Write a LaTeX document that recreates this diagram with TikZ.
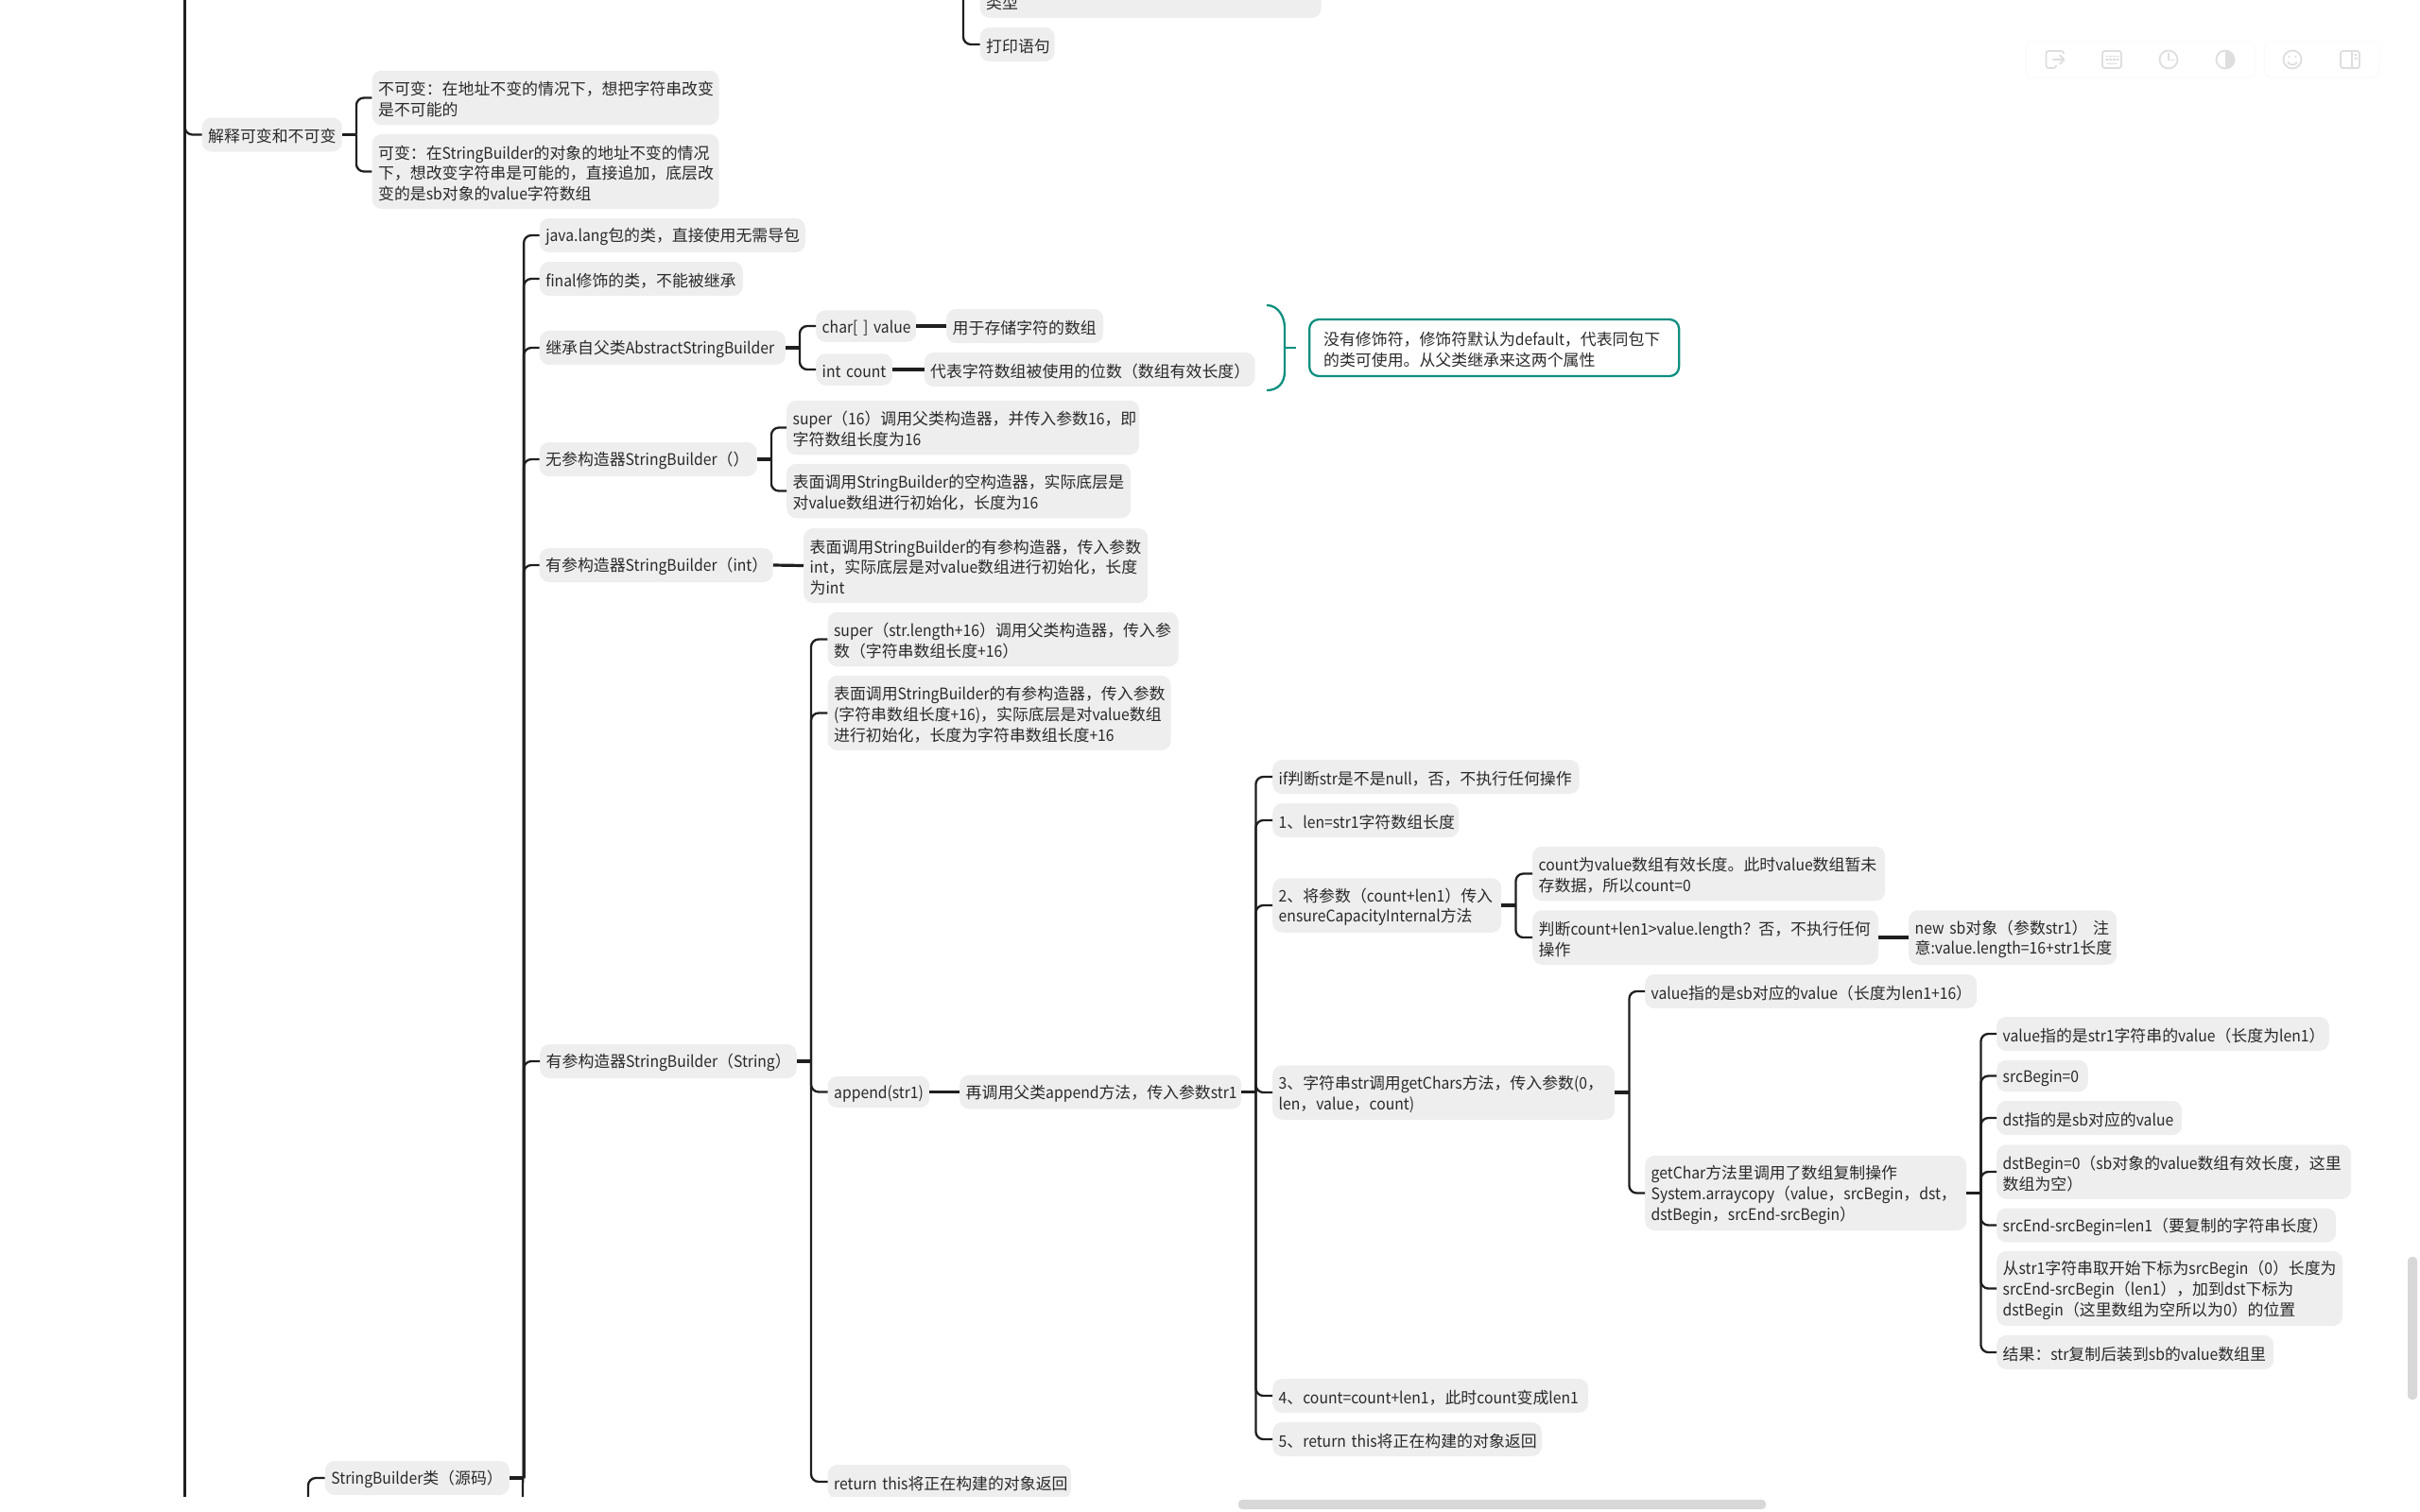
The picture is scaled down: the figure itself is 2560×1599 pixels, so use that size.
\documentclass[tikz,border=0pt]{standalone}
\usepackage{fontspec}
\usepackage{tikz}
\usetikzlibrary{calc}
\setmainfont{Noto Sans CJK SC}
\newfontfamily\hanfont{Noto Sans CJK SC}
\newfontfamily\latinfont[FakeStretch=0.93]{Noto Sans CJK SC}
% latin runs are set a little narrower than the han runs
\newXeTeXintercharclass\hanclass
\newcount\hanchar
\hanchar="3000
\loop \XeTeXcharclass\hanchar=\hanclass \advance\hanchar by 1 \ifnum\hanchar<"A000 \repeat
\hanchar="FF00
\loop \XeTeXcharclass\hanchar=\hanclass \advance\hanchar by 1 \ifnum\hanchar<"FFF0 \repeat
\XeTeXinterchartoks 0 \hanclass = {\hanfont}
\XeTeXinterchartoks \hanclass 0 = {\latinfont}
\XeTeXinterchartoks 4095 \hanclass = {\hanfont}
\XeTeXinterchartoks 4095 0 = {\latinfont}
\definecolor{topicgray}{HTML}{EEEEEE}
\definecolor{inkgray}{HTML}{2A2A2A}
\definecolor{linegray}{HTML}{1F1F1F}
\definecolor{noteteal}{HTML}{0F8F7F}
\definecolor{icongray}{HTML}{DEDEDE}
\definecolor{panelgray}{HTML}{FAFAFA}
\definecolor{bargray}{HTML}{D8D8D8}
\newcommand{\topicfont}{\fontsize{16.9}{21.7}\latinfont\XeTeXinterchartokenstate=1 }
\tikzset{
  topic/.style={anchor=west, fill=topicgray, rounded corners=10pt, inner xsep=6.5pt, inner ysep=0pt, align=left, minimum height=36pt, font=\topicfont, text=inkgray, text height=18pt},
  linetwo/.style={minimum height=57.5pt},
  linethree/.style={minimum height=79pt},
  lowtopic/.style={minimum height=33.5pt},
  bus/.style={draw=linegray, line width=2.3pt},
  stub/.style={draw=linegray, line width=3.2pt},
  kid/.style={bus, rounded corners=8pt, to path={(\tikztostart.west) -| ($(\tikztotarget.east)+(15,0)$)}},
  kidfree/.style={bus, rounded corners=8pt, to path={(\tikztostart.west) -| (\tikztotarget)}},
  link/.style={stub, to path={(\tikztostart.west) -- (\tikztotarget.east)}},
  note/.style={topic, fill=white, draw=noteteal, line width=2.3pt, inner xsep=15pt},
  notelink/.style={draw=noteteal, line width=2.3pt},
  icon/.style={draw=icongray, line width=1.8pt, line cap=round, line join=round},
  panel/.style={draw=panelgray, fill=white, line width=1pt, rounded corners=7pt},
  bar/.style={fill=bargray, rounded corners=4pt}
}
\begin{document}
\begin{tikzpicture}[x=1pt,y=-1pt]
\useasboundingbox (0,0) rectangle (2560,1599);
\begin{scope}
\clip (0,0) rectangle (2560,1583);
% lines that come from above or go on below the window
\coordinate (maintop) at (195.6,-60);
\coordinate (mainend) at (195.6,1640);
\coordinate (printbus) at (1019,-60);
\coordinate (sourcebus) at (326,1640);
\coordinate (sourceend) at (553,1640);
\draw[bus] (maintop) -- (mainend);

\node (type) at (1036.5,-10) [topic, linetwo, text width=348pt] {\mbox{}\\类型} edge[kidfree] (printbus);
\node (print) at (1036.5,47) [topic, text width=66pt] {打印语句} edge[kidfree] (printbus);

\node (explain) at (213.5,142.5) [topic, text width=135pt] {解释可变和不可变} edge[kidfree] (maintop);
	\node (fixed) at (393.4,103.5) [topic, linetwo, text width=354pt] {不可变：在地址不变的情况下，想把字符串改变\\是不可能的} edge[kid] (explain);
	\node (mutable) at (393.4,181.5) [topic, linethree, text width=354pt] {可变：在StringBuilder的对象的地址不变的情况\\下，想改变字符串是可能的，直接追加，底层改\\变的是sb对象的value字符数组} edge[kid] (explain);

\node (source) at (343.7,1564) [topic, text width=182pt] {StringBuilder类（源码）} edge[kidfree] (sourcebus);
\draw[bus] (source.east) ++(14,0) -- (sourceend);
	\node (lang) at (570.6,249) [topic, text width=268pt] {java.lang包的类，直接使用无需导包} edge[kid] (source);
	\node (final) at (570.6,295) [topic, text width=202pt] {final修饰的类，不能被继承} edge[kid] (source);
	\node (parent) at (570.6,368) [topic, text width=247pt] {继承自父类AbstractStringBuilder} edge[kid] (source);
		\node (value) at (863,345) [topic, lowtopic, text width=93pt] {char[~]~value} edge[kid] (parent);
			\node (valuedoc) at (1001,345) [topic, text width=153pt] {用于存储字符的数组} edge[link] (value);
		\node (count) at (863,391) [topic, lowtopic, text width=68pt] {int~count} edge[kid] (parent);
			\node (countdoc) at (977.5,391) [topic, text width=337pt] {代表字符数组被使用的位数（数组有效长度）} edge[link] (count);
	\node (empty) at (570.5,486) [topic, text width=217pt] {无参构造器StringBuilder（）} edge[kid] (source);
		\node (emptysuper) at (832,452.5) [topic, linetwo, text width=360pt] {super（16）调用父类构造器，并传入参数16，即\\字符数组长度为16} edge[kid] (empty);
		\node (emptyinit) at (832,519.5) [topic, linetwo, text width=351pt] {表面调用StringBuilder的空构造器，实际底层是\\对value数组进行初始化，长度为16} edge[kid] (empty);
	\node (intarg) at (570.5,598) [topic, text width=234pt] {有参构造器StringBuilder（int）} edge[kid] (source);
		\node (intinit) at (850,598.5) [topic, linethree, text width=351pt] {表面调用StringBuilder的有参构造器，传入参数\\int，实际底层是对value数组进行初始化，长度\\为int} edge[link] (intarg);
	\node (strarg) at (571,1123) [topic, text width=258.6pt] {有参构造器StringBuilder（String）} edge[kid] (source);
		\node (strsuper) at (875.4,676.5) [topic, linetwo, text width=358pt] {super（str.length+16）调用父类构造器，传入参\\数（字符串数组长度+16）} edge[kid] (strarg);
		\node (strinit) at (875.4,754.5) [topic, linethree, text width=350pt] {表面调用StringBuilder的有参构造器，传入参数\\(字符串数组长度+16)，实际底层是对value数组\\进行初始化，长度为字符串数组长度+16} edge[kid] (strarg);
		\node (append) at (875.5,1155.5) [topic, lowtopic, text width=94.5pt] {append(str1)} edge[kid] (strarg);
			\node (superappend) at (1015,1155.5) [topic, text width=285pt] {再调用父类append方法，传入参数str1} edge[link] (append);
				\node (ifnull) at (1346,822) [topic, text width=311.5pt] {if判断str是不是null，否，不执行任何操作} edge[kid] (superappend);
				\node (len) at (1346,868) [topic, text width=184pt] {1、len=str1字符数组长度} edge[kid] (superappend);
				\node (ensure) at (1346,958) [topic, linetwo, text width=229pt] {2、将参数（count+len1）传入\\ensureCapacityInternal方法} edge[kid] (superappend);
					\node (countzero) at (1621,924.5) [topic, linetwo, text width=360pt] {count为value数组有效长度。此时value数组暂未\\存数据，所以count=0} edge[kid] (ensure);
					\node (check) at (1621,992) [topic, linetwo, text width=353pt] {判断count+len1>value.length？否，不执行任何\\操作} edge[kid] (ensure);
						\node (newsb) at (2019,992) [topic, linetwo, text width=207pt] {new~sb对象（参数str1） 注\\意:value.length=16+str1长度} edge[link] (check);
				\node (getchars) at (1346,1156) [topic, linetwo, text width=349pt] {3、字符串str调用getChars方法，传入参数(0，\\len，value，count)} edge[kid] (superappend);
					\node (dstvalue) at (1740,1049) [topic, text width=338pt] {value指的是sb对应的value（长度为len1+16）} edge[kid] (getchars);
					\node (copy) at (1740,1262.5) [topic, linethree, text width=327pt] {getChar方法里调用了数组复制操作\\System.arraycopy（value，srcBegin，dst，\\dstBegin，srcEnd-srcBegin）} edge[kid] (getchars);
						\node (srcvalue) at (2112,1094) [topic, text width=338.6pt] {value指的是str1字符串的value（长度为len1）} edge[kid] (copy);
						\node (srcbegin) at (2112,1138.5) [topic, lowtopic, text width=83.6pt] {srcBegin=0} edge[kid] (copy);
						\node (dst) at (2112,1183) [topic, text width=183pt] {dst指的是sb对应的value} edge[kid] (copy);
						\node (dstbegin) at (2112,1240) [topic, linetwo, text width=362pt] {dstBegin=0（sb对象的value数组有效长度，这里\\数组为空）} edge[kid] (copy);
						\node (srcend) at (2112,1296.5) [topic, text width=346pt] {srcEnd-srcBegin=len1（要复制的字符串长度）} edge[kid] (copy);
						\node (take) at (2112,1363.5) [topic, linethree, text width=353pt] {从str1字符串取开始下标为srcBegin（0）长度为\\srcEnd-srcBegin（len1），加到dst下标为\\dstBegin（这里数组为空所以为0）的位置} edge[kid] (copy);
						\node (result) at (2112,1431) [topic, text width=280pt] {结果：str复制后装到sb的value数组里} edge[kid] (copy);
				\node (addlen) at (1346,1477) [topic, text width=321pt] {4、count=count+len1，此时count变成len1} edge[kid] (superappend);
				\node (backinner) at (1346,1523) [topic, text width=271.6pt] {5、return~this将正在构建的对象返回} edge[kid] (superappend);
		\node (backouter) at (875.5,1568) [topic, text width=244.5pt] {return~this将正在构建的对象返回} edge[kid] (strarg);

% the thick first piece behind each parent
\draw[stub] (explain.east) -- ++(15,0);
\draw[stub] (source.east) -- ++(14,0);
\draw[stub] (parent.east) -- ++(15,0);
\draw[stub] (empty.east) -- ++(15,0);
\draw[stub] (strarg.east) -- ++(15,0);
\draw[stub] (superappend.east) -- ++(15,0);
\draw[stub] (ensure.east) -- ++(15,0);
\draw[stub] (getchars.east) -- ++(15,0);
\draw[stub] (copy.east) -- ++(15,0);

% the note on the two fields
\node (fieldnote) at (1384,368) [note, minimum height=60pt, text width=361pt] {没有修饰符，修饰符默认为default，代表同包下\\的类可使用。从父类继承来这两个属性};
\coordinate (bracetop) at (1340,323);
\coordinate (bracebot) at (1340,413);
\coordinate (bracemid) at (1359,368);
\coordinate (braceend) at (1371,368);
\draw[notelink] (bracetop) .. controls (1352,323) and (1359,335) .. (1359,347) -- (1359,393) .. controls (1359,405) and (1352,413) .. (bracebot);
\draw[notelink] (bracemid) -- (braceend);
\end{scope}

% window furniture
\draw[panel] (2143,44) rectangle (2385,82);
\draw[panel] (2395,44) rectangle (2517,82);
\draw[icon, rounded corners=2.5pt] (2183,56) -- (2183,54) -- (2164.5,54) -- (2164.5,72) -- (2175,72) -- (2175,70);
\draw[icon] (2172,63) -- (2183.5,63) (2179,58.5) -- (2183.5,63) -- (2179,67.5);
\draw[icon, rounded corners=2.5pt] (2224,54) rectangle (2244,72);
\draw[icon, dotted] (2228,59.5) -- (2241,59.5) (2228,63) -- (2241,63);
\draw[icon] (2229,67.5) -- (2239,67.5);
\draw[icon] (2294,63) circle (9.5);
\draw[icon] (2294,56.5) -- (2294,63.5) -- (2300,63.5);
\draw[icon] (2354,63) circle (9.5);
\fill[icongray] (2354,53.5) .. controls (2359.2,53.5) and (2363.5,57.8) .. (2363.5,63) .. controls (2363.5,68.2) and (2359.2,72.5) .. (2354,72.5) -- cycle;
\draw[icon] (2425,63) circle (9.5);
\fill[icongray] (2421.5,60) circle (1.2) (2428.5,60) circle (1.2);
\draw[icon] (2420.5,66) .. controls (2422,69.5) and (2428,69.5) .. (2429.5,66);
\draw[icon, rounded corners=2.5pt] (2476,54) rectangle (2496,72);
\draw[icon] (2488,54) -- (2488,72) (2491,58) -- (2493,58) (2491,62) -- (2493,62);
\fill[bar] (1310,1587) rectangle (1868,1597);
\fill[bar] (2547,1330) rectangle (2557,1481);
\end{tikzpicture}
\end{document}
